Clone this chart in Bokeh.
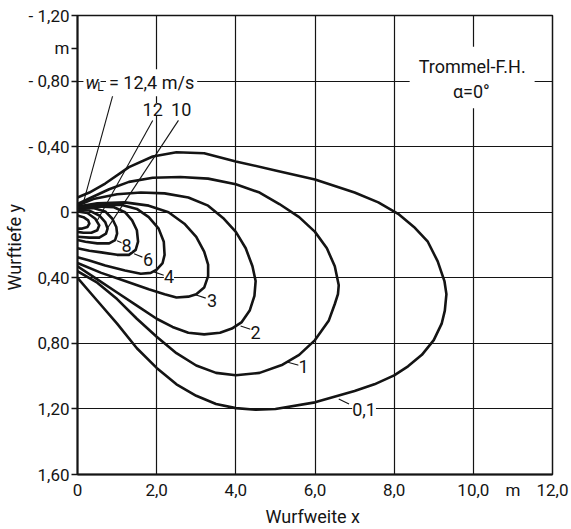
from bokeh.plotting import figure
from bokeh.models import Range1d, FixedTicker, ColumnDataSource, LabelSet, Label
from bokeh.core.properties import value
from bokeh.embed import file_html
from bokeh.resources import INLINE

# ---------------- data ----------------
x_grid = [0, 2, 4, 6, 8, 10, 12]
y_grid = [-1.2, -0.8, -0.4, 0, 0.4, 0.8, 1.2, 1.6]
x_tick_vals = [0, 2, 4, 6, 8, 10, 11, 12]
x_tick_labels = ["0", "2,0", "4,0", "6,0", "8,0", "10,0", "m", "12,0"]
y_tick_vals = [-1.2, -1.0, -0.8, -0.4, 0, 0.4, 0.8, 1.2, 1.6]
y_tick_labels = ["- 1,20", "m", "- 0,80", "- 0,40", "0", "0,40", "0,80", "1,20", "1,60"]

# contour w_L = 0.1 m/s
c01_x = [0, 0.3, 0.7, 1.3, 1.9, 2.5, 3.2, 4.0, 5.0, 6.0, 7.0, 7.6, 8.1, 8.5, 8.85, 9.1, 9.27,
         9.32, 9.28, 9.2, 9.0, 8.7, 8.35, 8.0, 7.5, 7.0, 6.0, 5.0, 4.5, 4.0, 3.5, 3.0, 2.5,
         2.0, 1.5, 1.0, 0.5, 0]
c01_y = [-0.09, -0.12, -0.175, -0.275, -0.34, -0.366, -0.36, -0.31, -0.255, -0.2, -0.12,
         -0.06, 0.01, 0.09, 0.18, 0.3, 0.42, 0.5, 0.6, 0.68, 0.78, 0.87, 0.94, 0.995, 1.05,
         1.09, 1.16, 1.2, 1.205, 1.195, 1.17, 1.12, 1.05, 0.95, 0.83, 0.68, 0.54, 0.40]
# contour w_L = 1
c1_x = [0, 0.35, 0.8, 1.3, 1.9, 2.6, 3.3, 4.0, 4.6, 5.1, 5.6, 6.0, 6.3, 6.5, 6.6, 6.58,
        6.5, 6.35, 6.0, 5.6, 5.18, 4.6, 4.0, 3.5, 3.0, 2.5, 2.0, 1.5, 1.0, 0.5, 0]
c1_y = [-0.05, -0.09, -0.14, -0.185, -0.21, -0.215, -0.205, -0.17, -0.12, -0.05, 0.03, 0.12,
        0.22, 0.33, 0.445, 0.5, 0.56, 0.66, 0.78, 0.87, 0.93, 0.98, 0.995, 0.98, 0.935, 0.86,
        0.76, 0.65, 0.53, 0.43, 0.36]
# contour w_L = 2
c2_x = [0, 0.4, 1.0, 1.6, 2.2, 2.8, 3.3, 3.7, 4.0, 4.25, 4.42, 4.5, 4.47, 4.35, 4.15, 3.9,
        3.6, 3.2, 2.8, 2.4, 2.0, 1.5, 1.0, 0.5, 0]
c2_y = [-0.04, -0.08, -0.11, -0.12, -0.115, -0.09, -0.04, 0.04, 0.12, 0.22, 0.33, 0.42, 0.51,
        0.6, 0.67, 0.71, 0.735, 0.745, 0.735, 0.7, 0.65, 0.57, 0.49, 0.41, 0.33]
# contour w_L = 3
c3_x = [0, 0.5, 1.2, 1.8, 2.3, 2.7, 3.0, 3.2, 3.3, 3.3, 3.2, 3.0, 2.8, 2.5, 2.2, 1.8, 1.2, 0.6, 0]
c3_y = [-0.035, -0.055, -0.06, -0.04, 0.0, 0.07, 0.15, 0.24, 0.32, 0.39, 0.46, 0.5, 0.515,
        0.52, 0.5, 0.47, 0.42, 0.37, 0.31]
# contour w_L = 4
c4_x = [0, 0.5, 1.1, 1.5, 1.8, 2.05, 2.18, 2.2, 2.15, 2.0, 1.85, 1.6, 1.2, 0.7, 0.3, 0]
c4_y = [-0.03, -0.045, -0.045, -0.02, 0.03, 0.1, 0.18, 0.26, 0.31, 0.35, 0.37, 0.375, 0.355,
        0.325, 0.295, 0.275]
# contour w_L = 6
c6_x = [0, 0.5, 0.92, 1.2, 1.38, 1.5, 1.53, 1.47, 1.3, 1.0, 0.6, 0.3, 0]
c6_y = [-0.03, -0.035, -0.03, 0.0, 0.05, 0.11, 0.18, 0.23, 0.26, 0.26, 0.245, 0.235, 0.22]
# contour w_L = 8
c8_x = [0, 0.4, 0.7, 0.88, 0.98, 1.0, 0.95, 0.8, 0.5, 0.2, 0]
c8_y = [-0.025, -0.025, -0.005, 0.04, 0.09, 0.13, 0.17, 0.19, 0.19, 0.18, 0.17]
# contour w_L = 10
c10_x = [0, 0.3, 0.55, 0.7, 0.76, 0.72, 0.55, 0.3, 0]
c10_y = [-0.015, -0.01, 0.02, 0.06, 0.1, 0.13, 0.155, 0.155, 0.15]
# contour w_L = 12
c12_x = [0, 0.25, 0.45, 0.55, 0.5, 0.35, 0.15, 0]
c12_y = [-0.005, 0.005, 0.04, 0.08, 0.11, 0.125, 0.125, 0.12]
# contour w_L = 12.4
c124_x = [0, 0.15, 0.27, 0.3, 0.25, 0.12, 0]
c124_y = [0.02, 0.03, 0.05, 0.07, 0.09, 0.1, 0.1]

# curve labels and their leader lines
lab_text = ["12", "10", "8", "6", "4", "3", "2", "1", "0,1"]
lab_x = [1.9, 2.62, 1.24, 1.78, 2.31, 3.4, 4.5, 5.71, 7.24]
lab_y = [-0.626, -0.626, 0.2, 0.288, 0.394, 0.54, 0.734, 0.944, 1.206]
lead_x0 = [0.9, 1.9, 2.55, 1.0, 1.43, 1.93, 2.98, 4.12, 5.29, 6.6]
lead_y0 = [-0.72, -0.56, -0.56, 0.174, 0.254, 0.364, 0.504, 0.694, 0.914, 1.14]
lead_x1 = [0.15, 0.5, 0.75, 1.13, 1.64, 2.18, 3.24, 4.37, 5.59, 6.86]
lead_y1 = [-0.06, 0.05, 0.1, 0.188, 0.274, 0.384, 0.524, 0.714, 0.934, 1.17]

curves = [(c01_x, c01_y), (c1_x, c1_y), (c2_x, c2_y), (c3_x, c3_y), (c4_x, c4_y),
          (c6_x, c6_y), (c8_x, c8_y), (c10_x, c10_y), (c12_x, c12_y), (c124_x, c124_y)]

# ---------------- figure ----------------
FONT = "Roboto"
INK = "#141414"

p = figure(width=571, height=529, x_range=Range1d(0, 12), y_range=Range1d(1.6, -1.2),
           output_backend="svg", toolbar_location=None,
           min_border_left=74, min_border_right=19, min_border_top=15, min_border_bottom=51,
           background_fill_color="white", border_fill_color="white")
p.outline_line_color = INK
p.outline_line_width = 1.5

p.xaxis.ticker = FixedTicker(ticks=x_tick_vals)
p.xaxis.major_label_overrides = dict(zip(x_tick_vals, x_tick_labels))
p.yaxis.ticker = FixedTicker(ticks=y_tick_vals)
p.yaxis.major_label_overrides = dict(zip(y_tick_vals, y_tick_labels))

for ax in (p.xaxis, p.yaxis):
    ax.axis_line_color = INK
    ax.axis_line_width = 2
    ax.major_tick_line_color = INK
    ax.major_tick_line_width = 1.3
    ax.minor_tick_line_color = None
    ax.major_label_text_font = FONT
    ax.major_label_text_font_size = "17px"
    ax.major_label_text_color = INK
    ax.axis_label_text_font = FONT
    ax.axis_label_text_font_size = "18px"
    ax.axis_label_text_font_style = "normal"
    ax.axis_label_text_color = INK

p.xaxis.major_tick_out = 0
p.xaxis.major_tick_in = 0
p.xaxis.major_label_standoff = 5
p.xaxis.axis_label = "Wurfweite  x"
p.xaxis.axis_label_standoff = 3
p.yaxis.major_tick_out = 6
p.yaxis.major_tick_in = 0
p.yaxis.major_label_standoff = 2
p.yaxis.axis_label = "Wurftiefe  y"
p.yaxis.axis_label_standoff = 1

p.xgrid.ticker = FixedTicker(ticks=x_grid)
p.ygrid.ticker = FixedTicker(ticks=y_grid)
for g in (p.xgrid, p.ygrid):
    g.grid_line_color = INK
    g.grid_line_width = 1.2
    g.grid_line_alpha = 1.0

for cx, cy in curves:
    p.line(cx, cy, line_width=2.6, line_color=INK, line_join="round", line_cap="round")

p.segment(x0=lead_x0, y0=lead_y0, x1=lead_x1, y1=lead_y1, line_width=1.1, line_color=INK)

src = ColumnDataSource(dict(x=lab_x, y=lab_y, text=lab_text))
p.add_layout(LabelSet(x="x", y="y", text="text", source=src, text_align="center",
                      text_baseline="middle", text_font=value(FONT),
                      text_font_size=value("18px"), text_color=INK,
                      background_fill_color="white"))

# w_L = 12,4 m/s
p.add_layout(Label(x=0.15, y=-0.79, text="w", text_font=FONT, text_font_style="italic",
                   text_font_size="18px", text_align="left", text_baseline="middle",
                   text_color=INK, background_fill_color="white", padding=2))
p.add_layout(Label(x=0.72, y=-0.79, text="= 12,4 m/s", text_font=FONT,
                   text_font_size="18px", text_align="left", text_baseline="middle",
                   text_color=INK, background_fill_color="white", padding=3))
p.add_layout(Label(x=0.5, y=-0.765, text="L", text_font=FONT, text_font_size="12px",
                   text_align="left", text_baseline="middle", text_color=INK))

# Box text
p.add_layout(Label(x=9.97, y=-0.89, text="Trommel-F.H.", text_font=FONT,
                   text_font_size="18px", text_align="center", text_baseline="middle",
                   text_color=INK, background_fill_color="white", padding=9))
p.add_layout(Label(x=9.95, y=-0.735, text="α=0°", text_font=FONT,
                   text_font_size="18px", text_align="center", text_baseline="middle",
                   text_color=INK, background_fill_color="white", padding=6))

open("out.html", "w").write(file_html(p, INLINE))
